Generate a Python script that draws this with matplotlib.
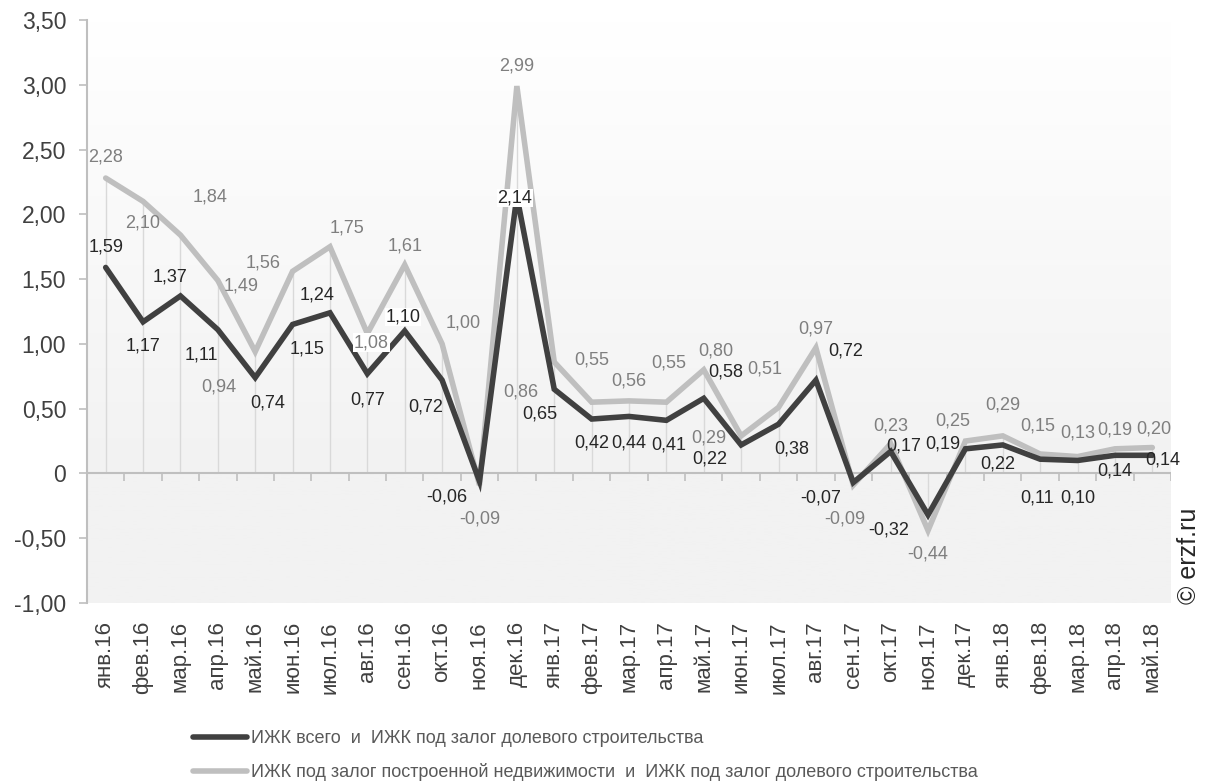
import numpy as np
import matplotlib.pyplot as plt
from matplotlib.colors import LinearSegmentedColormap

plt.rcParams['font.family'] = ['Liberation Sans', 'DejaVu Sans']

# ---------------- DATA ----------------
months = ["янв.16", "фев.16", "мар.16", "апр.16", "май.16", "июн.16", "июл.16",
          "авг.16", "сен.16", "окт.16", "ноя.16", "дек.16", "янв.17", "фев.17",
          "мар.17", "апр.17", "май.17", "июн.17", "июл.17", "авг.17", "сен.17",
          "окт.17", "ноя.17", "дек.17", "янв.18", "фев.18", "мар.18", "апр.18",
          "май.18"]

izhk_total = [1.59, 1.17, 1.37, 1.11, 0.74, 1.15, 1.24, 0.77, 1.10, 0.72,
              -0.06, 2.14, 0.65, 0.42, 0.44, 0.41, 0.58, 0.22, 0.38, 0.72,
              -0.07, 0.17, -0.32, 0.19, 0.22, 0.11, 0.10, 0.14, 0.14]

izhk_built = [2.28, 2.10, 1.84, 1.49, 0.94, 1.56, 1.75, 1.08, 1.61, 1.00,
              -0.09, 2.99, 0.86, 0.55, 0.56, 0.55, 0.80, 0.29, 0.51, 0.97,
              -0.09, 0.23, -0.44, 0.25, 0.29, 0.15, 0.13, 0.19, 0.20]

label_total = "ИЖК всего  и  ИЖК под залог долевого строительства"
label_built = "ИЖК под залог построенной недвижимости  и  ИЖК под залог долевого строительства"

# label offsets (pixels) as placed in the original chart
off_total = [(0, 20), (0, -24), (-10, 19), (-16, -25), (12, -25), (14, -25),
             (-13, 18), (0, -26), (-2, 14), (-16, -27), (-33, -16), (-2, -2),
             (-14, -25), (0, -24), (0, -27), (2, -25), (22, 26), (-31, -14),
             (13, -25), (30, 29), (-33, -15), (13, 5), (-39, -15), (-23, 5),
             (-5, -19), (-3, -39), (0, -38), (0, -16), (10, -5)]
off_built = [(0, 21), (0, -22), (30, 38), (23, -6), (-36, -35), (-29, 8),
             (17, 19), (4, -9), (0, 19), (21, 21), (0, -34), (0, 20),
             (-33, -30), (0, 42), (0, 20), (2, 39), (12, 19), (-32, -2),
             (-14, 38), (0, 19), (-8, -34), (0, 18), (0, -24), (-13, 20),
             (0, 31), (-2, 28), (0, 24), (0, 19), (2, 19)]

DARK = "#404040"
LIGHT = "#bfbfbf"


def fmt(v):
    return f"{v:.2f}".replace(".", ",")


fig = plt.figure(figsize=(12.07, 7.82), dpi=100)
ax = fig.add_axes([87 / 1207, 179 / 782, 1084 / 1207, 583 / 782])

x = np.arange(len(months))
ymin, ymax = -1.0, 3.5
ax.set_xlim(-0.5, len(months) - 0.5)
ax.set_ylim(ymin, ymax)

# background: gradient above zero, flat grey below
n = 400
yy = np.linspace(ymax, ymin, n)
grad = np.where(yy > 0, 1 - yy / ymax, 1.0)
cmap = LinearSegmentedColormap.from_list("bg", ["#ffffff", "#f2f2f2"])
ax.imshow(grad[:, None], aspect="auto", cmap=cmap, vmin=0, vmax=1,
          extent=(-0.5, len(months) - 0.5, ymin, ymax), zorder=0)

# drop lines
tops = np.maximum(izhk_total, izhk_built)
ax.vlines(x, 0, tops, color="#d9d9d9", lw=1, zorder=1)

# zero axis with category boundary ticks
ax.axhline(0, color="#bfbfbf", lw=1.5, zorder=2)
ax.vlines(np.arange(len(months) + 1) - 0.5, -0.055, 0, color="#bfbfbf", lw=1.2, zorder=2)

l2, = ax.plot(x, izhk_built, color=LIGHT, lw=4, solid_capstyle="round",
              solid_joinstyle="miter", zorder=3)
l1, = ax.plot(x, izhk_total, color=DARK, lw=4, solid_capstyle="round",
              solid_joinstyle="miter", zorder=4)

boxed_total = {8, 11}
boxed_built = {7}
for i, v in enumerate(izhk_built):
    bb = dict(fc="white", ec="none", pad=0.5) if i in boxed_built else None
    ax.annotate(fmt(v), (x[i], v), xytext=off_built[i], textcoords="offset pixels",
                ha="center", va="center", fontsize=13, color="#7f7f7f",
                bbox=bb, zorder=5)
for i, v in enumerate(izhk_total):
    bb = dict(fc="white", ec="none", pad=0.5) if i in boxed_total else None
    ax.annotate(fmt(v), (x[i], v), xytext=off_total[i], textcoords="offset pixels",
                ha="center", va="center", fontsize=13, color="#262626",
                bbox=bb, zorder=6)

# axes styling
for s in ["top", "right", "bottom"]:
    ax.spines[s].set_visible(False)
ax.spines["left"].set_color("#bfbfbf")
ax.spines["left"].set_linewidth(1.5)

yt = [3.5, 3.0, 2.5, 2.0, 1.5, 1.0, 0.5, 0, -0.5, -1.0]
ax.set_yticks(yt)
ax.set_yticklabels(["0" if t == 0 else fmt(t) for t in yt], fontsize=16.5, color="#404040")
ax.tick_params(axis="y", length=6, width=1.2, color="#bfbfbf", pad=9)

ax.set_xticks(x)
ax.set_xticklabels(months, rotation=90, fontsize=16, color="#404040")
ax.tick_params(axis="x", length=0, pad=13)

fig.legend([l1, l2], [label_total, label_built], loc="upper left",
           bbox_to_anchor=(193 / 1207, 1 - 730 / 782), frameon=False,
           fontsize=13, labelcolor="#595959", handlelength=3.0,
           handletextpad=0.2, labelspacing=0.9, borderpad=0, borderaxespad=0)

fig.text(1189 / 1207, 1 - 556 / 782, "© erzf.ru", rotation=90, ha="center",
         va="center", fontsize=18, color="#262626")

fig.savefig("out.png", dpi=100)
